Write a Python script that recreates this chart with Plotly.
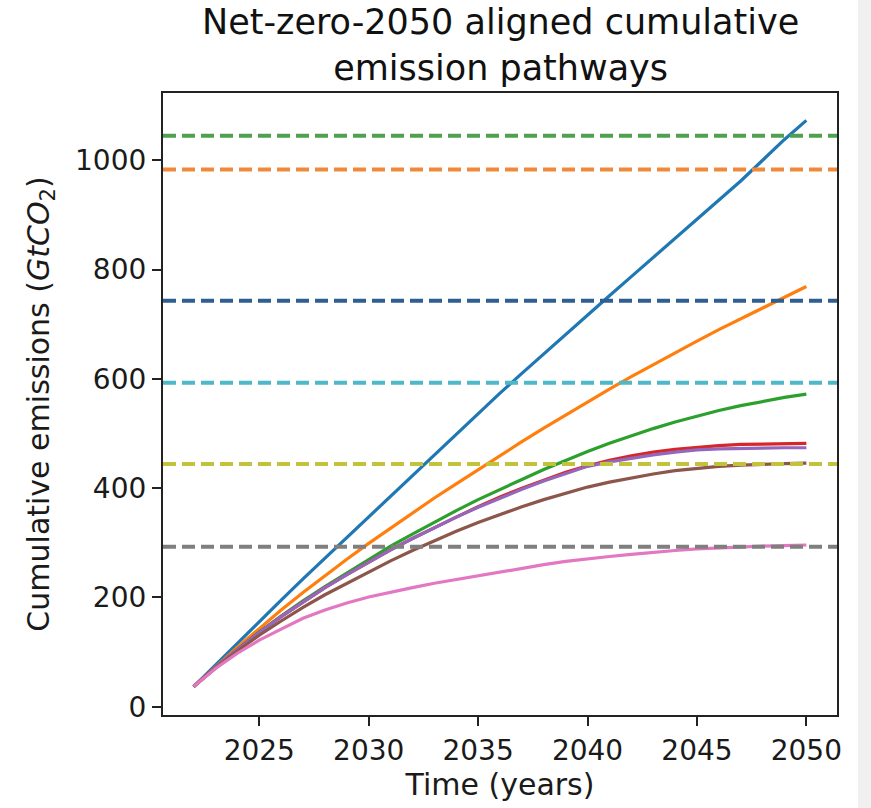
import plotly.graph_objects as go

# Years of the pathway projections
years = list(range(2022, 2051))

# Cumulative emissions (GtCO2) for each net-zero-2050 pathway
path_blue = [37, 77, 117, 156, 195, 234, 272, 310, 348, 386, 424, 462, 500, 537,
             574, 610, 646, 682, 717, 752, 787, 822, 857, 892, 927, 962, 1000, 1038, 1073]
path_orange = [37, 74, 109, 143, 177, 209, 240, 270, 299, 327, 355, 382, 408, 434,
               460, 485, 510, 534, 558, 581, 604, 626, 648, 669, 690, 710, 730, 750, 769]
path_green = [37, 72, 105, 137, 166, 194, 220, 245, 270, 294, 316, 338, 359, 379,
              398, 416, 434, 451, 467, 482, 496, 509, 521, 532, 542, 551, 559, 566, 572]
path_red = [37, 72, 105, 136, 165, 192, 218, 242, 265, 287, 308, 328, 347, 366,
            384, 400, 415, 429, 441, 451, 459, 466, 471, 475, 478, 480, 481, 482, 482]
path_purple = [37, 72, 105, 136, 165, 192, 218, 242, 265, 287, 308, 328, 347, 365,
               382, 398, 413, 427, 440, 448, 455, 461, 466, 470, 472, 473, 474, 474, 474]
path_brown = [37, 71, 102, 131, 157, 182, 205, 226, 247, 267, 286, 304, 321, 337,
              352, 366, 379, 391, 402, 411, 419, 426, 432, 436, 440, 442, 444, 445, 446]
path_pink = [37, 70, 98, 122, 142, 162, 177, 190, 201, 210, 218, 226, 233, 240,
             247, 254, 260, 266, 271, 275, 279, 283, 286, 289, 291, 293, 294, 295, 296]

pathways = [path_blue, path_orange, path_green, path_red, path_purple, path_brown, path_pink]
pathway_colors = ["#1f77b4", "#ff7f0e", "#2ca02c", "#d62728", "#9467bd", "#8c564b", "#e377c2"]

# Carbon budget thresholds (GtCO2), drawn as dashed reference lines
budget_values = [1045, 983, 743, 593, 444, 293]
budget_colors = ["#4fa04f", "#f08a3a", "#2f5f90", "#4cb8c8", "#c2c23c", "#7f7f7f"]

fig = go.Figure()

for vals, col in zip(pathways, pathway_colors):
    fig.add_trace(go.Scatter(
        x=years, y=vals, mode="lines",
        line=dict(color=col, width=3.2),
        showlegend=False, hoverinfo="skip",
    ))

for val, col in zip(budget_values, budget_colors):
    fig.add_hline(y=val, line=dict(color=col, width=4, dash="13px,6px"), layer="above")

# light strip at the right border
fig.add_shape(type="rect", xref="paper", yref="paper",
              x0=1.031, x1=1.06, y0=-0.2, y1=1.2,
              fillcolor="#f0f0f0", line=dict(width=0), layer="below")

font_family = "DejaVu Sans"

# two-line title above the axes
fig.add_annotation(
    text="Net-zero-2050 aligned cumulative<br>emission pathways",
    xref="paper", yref="paper", x=0.5, y=1.0,
    xanchor="center", yanchor="bottom", yshift=3,
    showarrow=False, align="center",
    font=dict(family=font_family, size=35, color="#111111"),
)

fig.update_layout(
    width=871, height=808,
    margin=dict(l=163, r=34, t=93, b=93),
    paper_bgcolor="white", plot_bgcolor="white",
    font=dict(family=font_family, size=28, color="#1a1a1a"),
    xaxis=dict(
        range=[2020.6, 2051.4],
        tickmode="array", tickvals=[2025, 2030, 2035, 2040, 2045, 2050],
        ticks="outside", ticklen=9, tickwidth=2, tickcolor="#222",
        showline=True, linecolor="#222", linewidth=2.2, mirror=True,
        showgrid=False, zeroline=False,
        tickfont=dict(size=28),
        title=dict(text="Time (years)", font=dict(size=30), standoff=8),
    ),
    yaxis=dict(
        range=[-15, 1123],
        tickmode="array", tickvals=[0, 200, 400, 600, 800, 1000],
        ticks="outside", ticklen=9, tickwidth=2, tickcolor="#222",
        showline=True, linecolor="#222", linewidth=2.2, mirror=True,
        showgrid=False, zeroline=False,
        tickfont=dict(size=28),
        title=dict(text="Cumulative emissions (<i>GtCO</i><sub>2</sub>)",
                   font=dict(size=30), standoff=17),
    ),
)

fig.write_html("out.html")
